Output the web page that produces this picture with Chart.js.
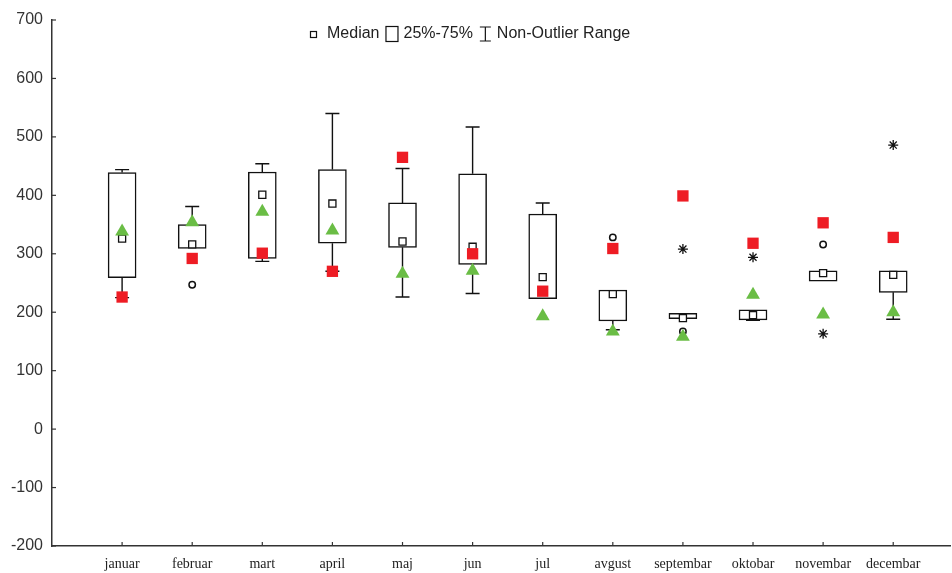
<!DOCTYPE html>
<html>
<head>
<meta charset="utf-8">
<script src="https://cdn.jsdelivr.net/npm/chart.js@4.4.1/dist/chart.umd.min.js"></script>
<style>
  html, body { margin: 0; padding: 0; background: #fff; }
  #chart { display: block; }
</style>
</head>
<body>
<canvas id="chart" width="952" height="573"></canvas>
<script>
// -----------------------------
// Data
// -----------------------------
const months = ["januar", "februar", "mart", "april", "maj", "jun",
  "jul", "avgust", "septembar", "oktobar", "novembar", "decembar"];

const boxLow = [259, 309, 292, 318, 311, 282, 223, 185, 189, 187, 253, 234];
const boxHigh = [439, 350, 440, 444, 387, 437, 368, 238, 198, 204, 271, 271];
const whiskerLow = [225, 309, 287, 270, 226, 232, 223, 170, 189, 186, 253, 188];
const whiskerHigh = [444, 381, 454, 540, 446, 517, 387, 238, 198, 204, 271, 271];
const medians = [326, 316, 401, 386, 321, 312, 260, 231, 190, 195, 267, 264];

const outlierMonths = [2, 8, 9, 11];
const outlierValues = [247, 328, 167, 316];
const extremeMonths = [9, 10, 11, 12];
const extremeValues = [308, 294, 163, 486];

const redSquares = [226, 292, 301, 270, 465, 300, 236, 309, 399, 318, 353, 328];
const greenTriangles = [338, 354, 372, 340, 266, 271, 193, 167, 158, 230, 196, 200];

const yTicks = [-200, -100, 0, 100, 200, 300, 400, 500, 600, 700];

// -----------------------------
// Helpers
// -----------------------------
const byMonth = values => values.map((v, i) => ({ x: i + 1, y: v }));
const pairs = (xs, ys) => xs.map((x, i) => ({ x, y: ys[i] }));
const INK = "#111";

// whiskers drawn under the boxes
const whiskerPlugin = {
  id: "whiskers",
  beforeDatasetsDraw(chart) {
    const { ctx, scales: { x, y } } = chart;
    ctx.save();
    ctx.strokeStyle = INK;
    ctx.lineWidth = 1.4;
    months.forEach((m, i) => {
      const px = x.getPixelForValue(i + 1);
      const segs = [[whiskerHigh[i], boxHigh[i]], [whiskerLow[i], boxLow[i]]];
      segs.forEach(([end, edge]) => {
        if (end === edge) return;
        const pe = y.getPixelForValue(end), pb = y.getPixelForValue(edge);
        ctx.beginPath();
        ctx.moveTo(px, pb);
        ctx.lineTo(px, pe);
        ctx.moveTo(px - 7, pe);
        ctx.lineTo(px + 7, pe);
        ctx.stroke();
      });
    });
    ctx.restore();
  }
};

// small tick marks pointing into the plot, plus the legend
const frameLegendPlugin = {
  id: "frameLegend",
  afterDraw(chart) {
    const { ctx, chartArea, scales: { x, y } } = chart;
    ctx.save();
    ctx.strokeStyle = "#333";
    ctx.lineWidth = 1.2;
    yTicks.forEach(v => {
      const py = y.getPixelForValue(v);
      ctx.beginPath();
      ctx.moveTo(chartArea.left, py);
      ctx.lineTo(chartArea.left + 4, py);
      ctx.stroke();
    });
    months.forEach((m, i) => {
      const px = x.getPixelForValue(i + 1);
      ctx.beginPath();
      ctx.moveTo(px, chartArea.bottom);
      ctx.lineTo(px, chartArea.bottom - 4);
      ctx.stroke();
    });

    // legend
    const cy = 34;
    let lx = 310;
    ctx.font = "16px 'Liberation Sans', Arial, sans-serif";
    ctx.textBaseline = "middle";
    ctx.fillStyle = "#222";
    ctx.strokeStyle = INK;
    ctx.lineWidth = 1.2;
    ctx.strokeRect(lx + 0.5, cy - 2.5, 6, 6);
    lx += 17;
    ctx.fillText("Median", lx, cy);
    lx += ctx.measureText("Median").width + 6;
    ctx.strokeRect(lx + 0.5, cy - 7.5, 12, 15);
    lx += 18;
    ctx.fillText("25%-75%", lx, cy);
    lx += ctx.measureText("25%-75%").width + 7;
    ctx.beginPath();
    ctx.moveTo(lx, cy - 7); ctx.lineTo(lx + 11, cy - 7);
    ctx.moveTo(lx + 5.5, cy - 7); ctx.lineTo(lx + 5.5, cy + 7);
    ctx.moveTo(lx, cy + 7); ctx.lineTo(lx + 11, cy + 7);
    ctx.stroke();
    lx += 17;
    ctx.fillText("Non-Outlier Range", lx, cy);
    ctx.restore();
  }
};

// -----------------------------
// Chart
// -----------------------------
new Chart(document.getElementById("chart"), {
  type: "bar",
  data: {
    datasets: [
      {
        label: "25%-75%",
        data: months.map((m, i) => ({ x: i + 1, y: [boxLow[i], boxHigh[i]] })),
        backgroundColor: "#fff",
        borderColor: INK,
        borderWidth: 1.5,
        borderSkipped: false,
        barThickness: 28,
        order: 6
      },
      {
        type: "scatter", label: "Median", data: byMonth(medians),
        pointStyle: "rect", pointRadius: 5, backgroundColor: "#fff",
        borderColor: INK, borderWidth: 1.3, order: 5
      },
      {
        type: "scatter", label: "Outliers", data: pairs(outlierMonths, outlierValues),
        pointStyle: "circle", pointRadius: 3.2, backgroundColor: "#fff",
        borderColor: INK, borderWidth: 1.5, order: 4
      },
      {
        type: "scatter", label: "Extremes", data: pairs(extremeMonths, extremeValues),
        pointStyle: "star", pointRadius: 5, backgroundColor: INK,
        borderColor: INK, borderWidth: 1.3, order: 3
      },
      {
        type: "scatter", label: "red", data: byMonth(redSquares),
        pointStyle: "rect", pointRadius: 8, backgroundColor: "#ee1c24",
        borderColor: "#ee1c24", borderWidth: 0, order: 2
      },
      {
        type: "scatter", label: "green", data: byMonth(greenTriangles),
        pointStyle: "triangle", pointRadius: 8, backgroundColor: "#6abd45",
        borderColor: "#6abd45", borderWidth: 0, order: 1
      }
    ]
  },
  options: {
    responsive: false,
    animation: false,
    devicePixelRatio: 1,
    layout: { autoPadding: false, padding: { top: 20, right: 2, left: 0, bottom: 0 } },
    plugins: { legend: { display: false }, tooltip: { enabled: false } },
    scales: {
      x: {
        type: "linear",
        min: 0,
        max: 12.81,
        offset: false,
        afterBuildTicks: s => { s.ticks = months.map((m, i) => ({ value: i + 1 })); },
        afterFit: s => { s.height = 27; s.paddingRight = 0; s.paddingLeft = 0; },
        ticks: {
          autoSkip: false,
          maxRotation: 0,
          padding: 10,
          color: "#222",
          font: { family: "'Liberation Serif', 'Times New Roman', serif", size: 14 },
          callback: v => months[v - 1] || ""
        },
        grid: { display: true, drawOnChartArea: false, drawTicks: false, offset: false },
        border: { display: true, color: "#333", width: 1.5 }
      },
      y: {
        min: -200,
        max: 700,
        afterBuildTicks: s => { s.ticks = yTicks.map(v => ({ value: v })); },
        afterFit: s => { s.width = 52; },
        ticks: {
          padding: 9,
          color: "#333",
          font: { family: "'Liberation Sans', Arial, sans-serif", size: 16 }
        },
        grid: { display: true, drawOnChartArea: false, drawTicks: false },
        border: { display: true, color: "#333", width: 1.5 }
      }
    }
  },
  plugins: [whiskerPlugin, frameLegendPlugin]
});
</script>
</body>
</html>
